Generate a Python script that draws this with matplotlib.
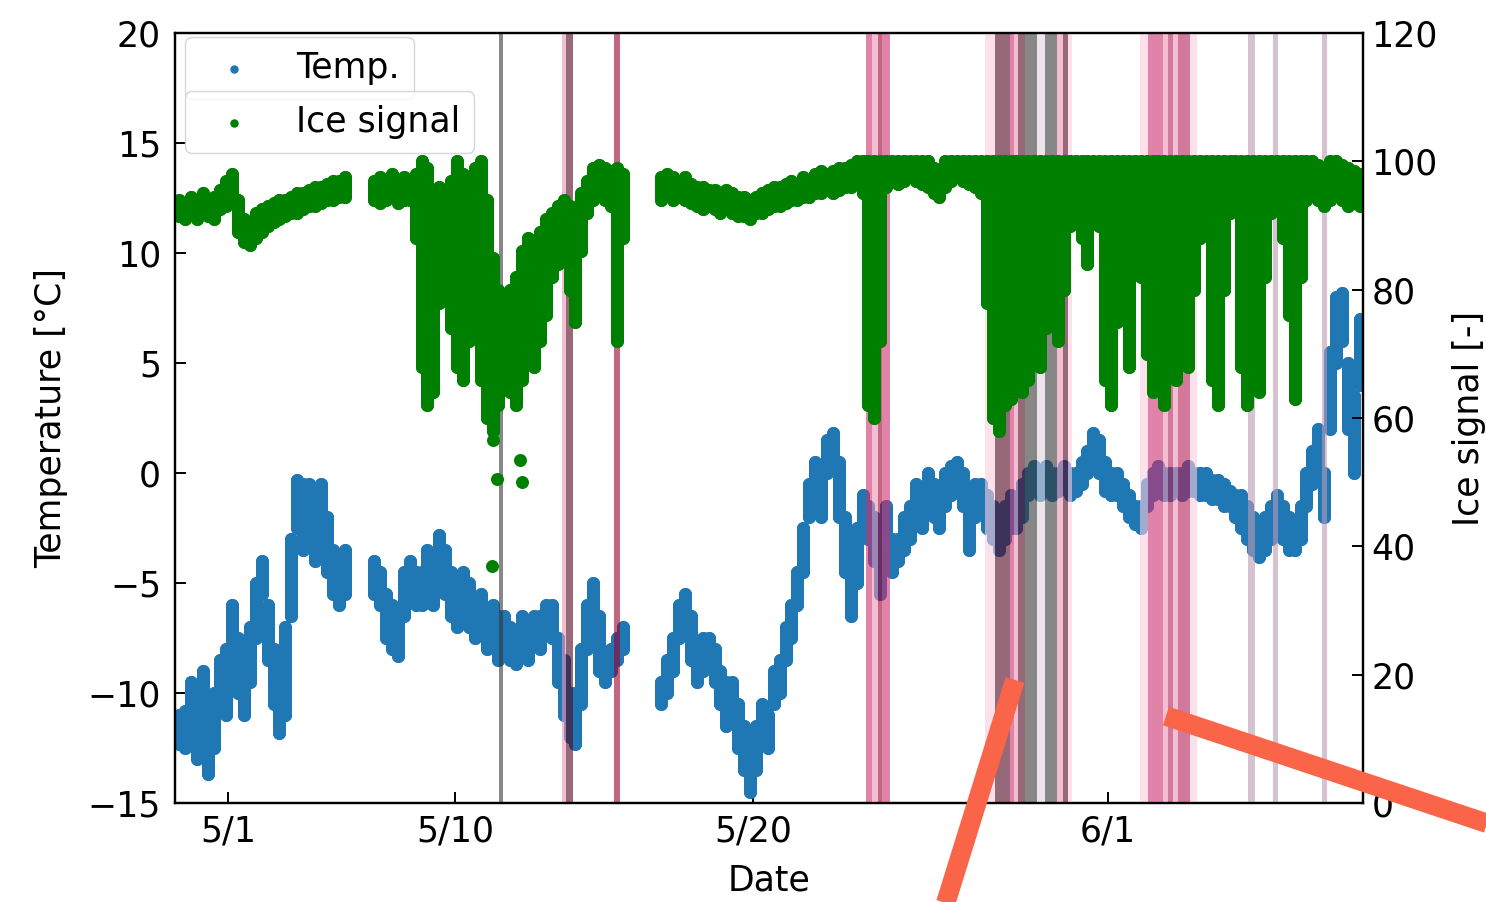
import numpy as np
import matplotlib
matplotlib.use("Agg")
import matplotlib.pyplot as plt
from matplotlib.lines import Line2D

# ---------------- data ----------------
# time in days since 5/1 00:00; readings every 0.2 day in three recorded segments
seg_start = [-0.4, 6.2, 15.9]
seg_step = 0.2

# temperature band (lower / upper reading per 0.2-day bin), degC
temp_lo_a = [-12.3, -12.5, -12.0, -13.0, -12.0, -13.7, -12.5, -10.5, -11.0, -8.5,
             -10.0, -11.0, -9.5, -7.5, -5.5, -8.5, -10.5, -11.8, -11.0, -6.5,
             -2.5, -3.5, -3.0, -4.0, -2.5, -4.5, -5.5, -6.0, -5.5]
temp_hi_a = [-11.0, -10.8, -9.5, -10.5, -9.0, -11.0, -10.0, -8.5, -8.0, -6.0,
             -7.5, -8.5, -7.0, -5.0, -4.0, -6.0, -8.0, -9.5, -7.0, -3.0,
             -0.3, -0.5, -0.5, -1.0, -0.5, -2.0, -3.5, -4.0, -3.5]
temp_lo_b = [-5.5, -6.0, -7.5, -8.0, -8.3, -6.5, -5.5, -6.0, -6.0, -5.5,
             -6.0, -4.5, -5.5, -6.5, -7.0, -6.0, -7.0, -7.5, -7.0, -8.0,
             -7.5, -8.5, -8.0, -8.5, -8.7, -8.0, -8.5, -7.5, -8.0, -7.0,
             -7.5, -9.5, -11.0, -12.0, -12.3, -10.5, -8.0, -6.5, -9.0, -9.5,
             -9.0, -8.5, -8.0]
temp_hi_b = [-4.0, -4.5, -5.5, -6.0, -6.5, -4.5, -4.0, -4.5, -4.5, -3.5,
             -4.0, -2.8, -3.5, -4.5, -5.5, -4.5, -5.0, -6.0, -5.5, -6.5,
             -6.0, -6.5, -6.5, -7.0, -7.5, -6.5, -7.0, -6.5, -6.5, -6.0,
             -6.0, -7.5, -8.5, -10.0, -10.0, -8.0, -6.0, -5.0, -6.5, -8.5,
             -8.0, -7.5, -7.0]
temp_lo_c = [-10.5, -10.0, -9.0, -7.5, -7.0, -8.5, -9.5, -9.0, -8.5, -9.5,
             -10.5, -11.5, -10.5, -12.5, -13.5, -14.5, -13.5, -12.0, -12.5, -10.5,
             -10.0, -8.5, -7.5, -6.0, -4.5, -2.0, -1.0, -2.0, 0.0, 0.5,
             -2.0, -4.5, -6.5, -5.0, -2.5, -3.0, -4.0, -5.5, -3.0, -4.5,
             -4.0, -3.5, -3.0, -2.0, -2.5, -1.5, -2.0, -2.5, -1.5, -1.0,
             -0.8, -1.5, -3.5, -2.0, -1.8, -2.5, -3.0, -3.5, -3.0, -2.5,
             -2.5, -2.0, -1.0, -0.8, -1.0, -0.8, -1.0, -0.8, -0.5, -1.0,
             -0.8, -0.5, 0.0, 0.5, 0.0, -0.8, -1.0, -1.0, -1.5, -2.0,
             -2.3, -2.5, -1.5, -1.0, -0.8, -1.0, -1.0, -0.8, -1.0, -0.8,
             -0.8, -1.0, -1.0, -1.2, -1.2, -1.5, -1.5, -2.0, -2.5, -3.0,
             -3.5, -3.8, -3.5, -3.0, -2.0, -3.0, -3.5, -3.5, -3.0, -1.5,
             -0.5, 0.0, -2.0, 2.0, 5.0, 6.0, 2.0, 0.0, 4.0]
temp_hi_c = [-9.5, -8.5, -7.5, -6.0, -5.5, -6.5, -8.0, -7.5, -7.5, -8.0,
             -9.0, -9.5, -9.5, -10.5, -11.5, -12.5, -11.5, -10.5, -11.0, -9.0,
             -8.5, -7.0, -6.0, -4.5, -2.5, -0.5, 0.5, 0.0, 1.5, 1.8,
             0.5, -2.0, -4.0, -2.5, -1.0, -1.5, -2.0, -3.5, -1.5, -3.0,
             -3.0, -2.0, -1.5, -0.5, -1.0, 0.0, -0.5, -1.0, 0.0, 0.3,
             0.5, 0.0, -1.5, -0.5, -0.5, -1.0, -1.5, -2.0, -1.5, -1.0,
             -1.5, -0.5, 0.0, 0.3, 0.0, 0.3, 0.0, 0.0, 0.3, 0.0,
             0.0, 0.5, 1.0, 1.8, 1.5, 0.5, 0.0, 0.0, -0.5, -1.0,
             -1.5, -1.5, -0.5, 0.0, 0.3, 0.0, 0.0, 0.0, 0.0, 0.3,
             0.0, 0.0, 0.0, -0.3, -0.3, -0.5, -0.8, -1.0, -1.0, -1.5,
             -2.0, -2.5, -2.0, -1.5, -1.0, -1.5, -2.0, -2.5, -1.5, 0.0,
             1.0, 2.0, 0.0, 5.5, 8.0, 8.2, 5.0, 3.5, 7.0]

# ice signal band (lower / upper reading per 0.2-day bin), [-]
ice_lo_a = [91.5, 91, 92, 91, 92, 91.5, 91, 92.5, 93, 94,
            89, 87.5, 87, 88, 89, 90, 90.5, 91, 91.5, 92,
            92, 92.5, 93, 93, 93.5, 94, 94, 94.5, 94.5]
ice_hi_a = [94, 93.5, 94.5, 94, 95, 94, 94.5, 95.5, 97, 98,
            94, 91, 90, 92, 92.5, 93, 93.5, 94, 94, 94.5,
            95, 95, 95.5, 96, 96, 96.5, 97, 97, 97.5]
ice_lo_b = [94, 93.5, 94, 94.5, 93.5, 94, 94, 88, 68, 62,
            64, 78, 80, 74, 68, 66, 72, 75, 66, 60,
            58, 62, 68, 64, 62, 66, 70, 68, 72, 76,
            82, 84, 85, 80, 75, 86, 92, 94, 95, 94,
            93, 72, 88]
ice_hi_b = [97, 97.5, 97, 98, 97, 97.5, 97, 98, 100, 99,
            92, 96, 94, 97, 100, 98, 96, 99, 100, 94,
            85, 80, 78, 80, 82, 86, 88, 85, 89, 91,
            92, 93, 94, 93, 90, 95, 97, 99, 99.5, 99,
            98.5, 99, 98]
ice_lo_c = [94, 95, 94, 94.5, 94, 93.5, 93, 92.5, 93, 92.5,
            92, 92.5, 92, 91.5, 91.5, 91, 92, 92, 92.5, 93,
            93, 93.5, 94, 94, 94.5, 94.5, 95, 95, 95.5, 95,
            95.5, 96, 96, 96.5, 95, 62, 60, 72, 96, 97,
            96.5, 97, 97.5, 97, 96.5, 96, 95, 94.5, 96, 97,
            97.5, 97, 96.5, 96, 95, 78, 60, 58, 62, 63,
            66, 64, 66, 72, 68, 74, 82, 72, 80, 90,
            94, 88, 84, 95, 90, 66, 62, 75, 92, 68,
            86, 82, 70, 64, 66, 62, 72, 66, 72, 68,
            80, 88, 94, 66, 62, 80, 92, 94, 68, 62,
            78, 64, 82, 92, 94, 88, 76, 63, 82, 94,
            95, 94, 93, 94, 95, 94, 93, 93.5, 93]
ice_hi_c = [97.5, 98, 97.5, 97, 97.5, 96.5, 96, 96, 95.5, 95.5,
            95, 95.5, 95, 94.5, 94.5, 94, 94.5, 95, 95.5, 96,
            96, 96.5, 97, 96.5, 97.5, 97, 98, 98.5, 98, 98.5,
            99, 99, 99.5, 100, 100, 100, 100, 100, 100, 100,
            100, 100, 100, 100, 100, 100, 99, 98.5, 100, 100,
            100, 100, 100, 100, 100, 100, 100, 100, 100, 100,
            100, 100, 100, 100, 100, 100, 100, 100, 100, 100,
            100, 100, 100, 100, 100, 100, 100, 100, 100, 100,
            100, 100, 100, 100, 100, 100, 100, 100, 100, 100,
            100, 100, 100, 100, 100, 100, 100, 100, 100, 100,
            100, 100, 100, 100, 100, 100, 100, 100, 100, 100,
            100, 99.5, 99, 100, 100, 99.5, 99, 98.5, 98]

# isolated ice-signal readings
ice_out_t = [10.18, 10.22, 10.35, 11.13, 11.20]
ice_out_v = [37.0, 56.5, 50.5, 53.5, 50.0]

# flagged periods (start day, end day, category)
span_start = [10.42, 12.55, 12.68, 14.30, 22.82, 23.02, 23.22, 23.36,
              26.84, 27.18, 27.68, 27.82, 27.95, 28.19, 28.60, 28.87, 29.27, 29.47, 29.64,
              32.07, 32.35, 32.85, 33.02, 33.19, 33.36, 33.76,
              35.72, 36.57, 38.22]
span_end = [10.55, 12.68, 12.92, 14.51, 23.02, 23.22, 23.36, 23.63,
            27.18, 27.68, 27.82, 27.95, 28.19, 28.60, 28.87, 29.27, 29.47, 29.64, 29.78,
            32.35, 32.85, 33.02, 33.19, 33.36, 33.76, 34.00,
            35.96, 36.74, 38.39]
span_kind = ["gray", "pink_light", "mauve", "pink_dark", "pink", "pink_light", "pink_dark", "pink",
             "pink_pale", "mauve", "pink", "pink_light", "mauve", "gray", "gray_pale", "gray", "pink_light", "mauve", "pink_pale",
             "pink_pale", "pink", "pink_light", "pink_mid", "pink_light", "pink_mid", "pink_pale",
             "lavender", "lavender", "lavender"]

tick_days = [1.26, 8.93, 19.0, 31.0]
tick_labels = ["5/1", "5/10", "5/20", "6/1"]

# ---------------- styles ----------------
W, H = 1486, 902
FS = 25
dot_px = 13
dot_lw = dot_px * 72 / 100
dot_s = dot_lw ** 2
blue = "#1f77b4"
green = "#008000"
span_style = {
    "gray": "#373737", "gray_pale": "#ded5de", "mauve": "#50051e",
    "pink_dark": "#9b002f", "pink": "#cd2f71", "pink_mid": "#b41e58",
    "pink_light": "#ee93b4", "pink_pale": "#facdde", "lavender": "#bc9bb4",
}
span_alpha = 0.6
# annotation strokes (figure pixels)
annot_lines = [((1015, 680), (942, 915)), ((1166, 716), (1495, 826))]

plt.rcParams["font.family"] = ["DejaVu Sans"]

fig = plt.figure(figsize=(W / 100, H / 100), dpi=100)
ax = fig.add_axes([175 / W, 1 - 803 / H, (1363 - 175) / W, (803 - 33) / H])
ax2 = ax.twinx()

temp_lo = [temp_lo_a, temp_lo_b, temp_lo_c]
temp_hi = [temp_hi_a, temp_hi_b, temp_hi_c]
ice_lo = [ice_lo_a, ice_lo_b, ice_lo_c]
ice_hi = [ice_hi_a, ice_hi_b, ice_hi_c]

for k in range(3):
    t = seg_start[k] + seg_step * np.arange(len(temp_lo[k]))
    ax.vlines(t, temp_lo[k], temp_hi[k], colors=blue, lw=dot_lw, capstyle="round", zorder=2)
    ax.scatter(t, temp_lo[k], s=dot_s, color=blue, lw=0, zorder=2,
               label="Temp." if k == 0 else None)
    ax.scatter(t, temp_hi[k], s=dot_s, color=blue, lw=0, zorder=2)
    ti = seg_start[k] + seg_step * np.arange(len(ice_lo[k]))
    ax2.vlines(ti, ice_lo[k], ice_hi[k], colors=green, lw=dot_lw, capstyle="round", zorder=2)
    ax2.scatter(ti, ice_lo[k], s=dot_s, color=green, lw=0, zorder=2,
                label="Ice signal" if k == 0 else None)
    ax2.scatter(ti, ice_hi[k], s=dot_s, color=green, lw=0, zorder=2)
ax2.scatter(ice_out_t, ice_out_v, s=dot_s, color=green, lw=0, zorder=2)

for s0, s1, kd in zip(span_start, span_end, span_kind):
    ax.axvspan(s0, s1, color=span_style[kd], alpha=span_alpha, lw=0, zorder=3)

ax.set_xlim(-0.53, 39.61)
ax.set_ylim(-15, 20)
ax2.set_ylim(0, 120)
ax.set_yticks(np.arange(-15, 21, 5))
ax2.set_yticks(np.arange(0, 121, 20))
ax.set_xticks(tick_days)
ax.set_xticklabels(tick_labels)

for a in (ax, ax2):
    for sp in a.spines.values():
        sp.set_linewidth(1.6)
ax.tick_params(axis="both", direction="in", length=8, width=1.4, labelsize=FS)
ax.tick_params(axis="y", pad=10)
ax.tick_params(axis="x", pad=8)
ax2.tick_params(axis="y", direction="in", length=8, width=1.4, labelsize=FS, pad=6)

ax.set_xlabel("Date", fontsize=FS, labelpad=11)
ax.set_ylabel("Temperature [°C]", fontsize=FS, labelpad=14)
ax2.set_ylabel("Ice signal [-]", fontsize=FS, labelpad=10)

leg1 = ax.legend(loc="upper left", bbox_to_anchor=(10 / 1188, (803 - 37) / 770),
                 borderaxespad=0, fontsize=FS, markerscale=0.65)
leg2 = ax2.legend(loc="upper left", bbox_to_anchor=(10 / 1188, (803 - 91) / 770),
                  borderaxespad=0, fontsize=FS, markerscale=0.65)

for (x0, y0), (x1, y1) in annot_lines:
    fig.add_artist(Line2D([x0 / W, x1 / W], [1 - y0 / H, 1 - y1 / H], transform=fig.transFigure,
                          color="#fa6448", lw=14, solid_capstyle="butt", zorder=20))

fig.savefig("out.png", dpi=100)
